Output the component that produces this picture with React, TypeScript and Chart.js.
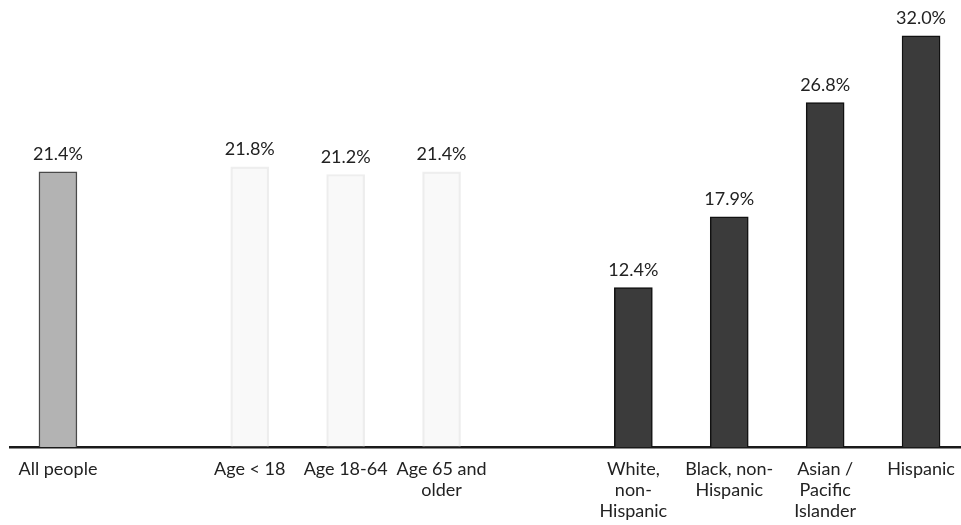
import React, { useEffect, useRef } from "react";
import { Chart, registerables } from "chart.js";

Chart.register(...registerables);

const categories: (string | string[])[] = [
  "All people",
  "",
  "Age < 18",
  "Age 18-64",
  ["Age 65 and", "older"],
  "",
  ["White,", "non-", "Hispanic"],
  ["Black, non-", "Hispanic"],
  ["Asian /", "Pacific", "Islander"],
  "Hispanic",
];

const povertyRates: (number | null)[] = [21.4, null, 21.8, 21.2, 21.4, null, 12.4, 17.9, 26.8, 32.0];

const valueLabels: string[] = ["21.4%", "", "21.8%", "21.2%", "21.4%", "", "12.4%", "17.9%", "26.8%", "32.0%"];

const groupOf: string[] = ["all", "", "age", "age", "age", "", "race", "race", "race", "race"];

const FONT = "Lato, 'Noto Sans', sans-serif";

export default function App() {
  const ref = useRef<HTMLCanvasElement | null>(null);

  useEffect(() => {
    document.body.style.margin = "0";
    document.body.style.overflow = "hidden";
    const canvas = ref.current;
    if (!canvas) return;

    const fills = groupOf.map((g) =>
      g === "all" ? "#b3b3b3" : g === "age" ? "rgba(225,225,225,0.2)" : g === "race" ? "#3b3b3b" : "transparent"
    );
    const borders = groupOf.map((g) =>
      g === "all" ? "#4a4a4a" : g === "age" ? "rgba(200,200,200,0.3)" : g === "race" ? "#111111" : "transparent"
    );

    const labelPlugin = {
      id: "valueLabels",
      afterDatasetsDraw(chart: any) {
        const ctx = chart.ctx;
        const meta = chart.getDatasetMeta(0);
        ctx.save();
        ctx.font = `18px ${FONT}`;
        ctx.fillStyle = "#222";
        ctx.textAlign = "center";
        ctx.textBaseline = "alphabetic";
        meta.data.forEach((bar: any, i: number) => {
          if (povertyRates[i] == null) return;
          ctx.fillText(valueLabels[i], bar.x, bar.y - 12);
        });
        ctx.restore();
      },
    };

    const chart = new Chart(canvas, {
      type: "bar",
      data: {
        labels: categories,
        datasets: [
          {
            data: povertyRates,
            backgroundColor: fills,
            borderColor: borders,
            borderWidth: 1.5,
            barThickness: 38,
            borderSkipped: "bottom",
          },
        ],
      },
      options: {
        animation: false,
        responsive: false,
        maintainAspectRatio: false,
        layout: { padding: { top: 10, left: 10, right: 6, bottom: 0 } },
        plugins: { legend: { display: false }, tooltip: { enabled: false } },
        scales: {
          y: { display: false, min: 0, max: 34 },
          x: {
            grid: { display: false, drawTicks: false },
            border: { display: true, color: "#1a1a1a", width: 2.5 },
            ticks: {
              color: "#222",
              font: { family: FONT, size: 18, lineHeight: "21px" },
              padding: 12,
              maxRotation: 0,
              autoSkip: false,
            },
          },
        },
      },
      plugins: [labelPlugin],
    });
    return () => chart.destroy();
  }, []);

  return (
    <div style={{ position: "absolute", left: 0, top: 0, width: 961, height: 525, overflow: "hidden", background: "#fff" }}>
      <canvas ref={ref} width={975} height={534} style={{ display: "block", width: 975, height: 534 }} />
    </div>
  );
}
